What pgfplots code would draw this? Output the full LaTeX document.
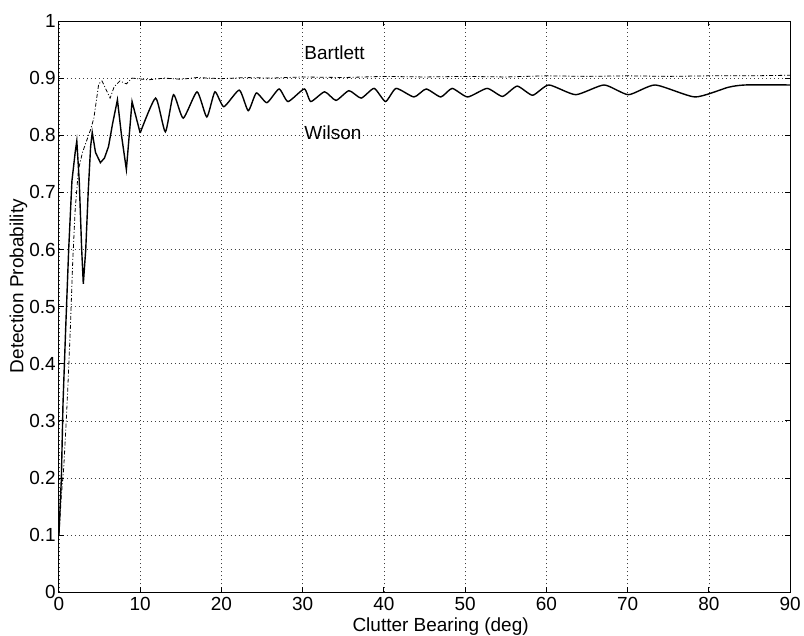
\documentclass[border=0pt]{standalone}
\usepackage{pgfplots}
\pgfplotsset{compat=1.18}
\usepackage{fontspec}
\setmainfont{Liberation Sans}
\begin{document}
\begin{tikzpicture}
\begin{axis}[
  name=ax,
  scale only axis, width=732pt, height=572pt,
  xmin=0, xmax=90, ymin=0, ymax=1,
  xtick={0,10,...,90},
  ytick={0,0.1,0.2,0.3,0.4,0.5,0.6,0.7,0.8,0.9,1},
  yticklabels={0,0.1,0.2,0.3,0.4,0.5,0.6,0.7,0.8,0.9,1},
  tick align=inside,
  major tick length=5pt,
  grid=major,
  major grid style={black!75, line width=0.7pt, dash pattern=on 1pt off 3pt},
  axis line style={black, line width=0.9pt},
  tick style={black, line width=0.9pt},
  font=\fontsize{19}{21}\selectfont,
  /pgf/number format/assume math mode=true,
  yticklabel style={inner xsep=3pt},
  xticklabel style={inner ysep=5pt},
  xlabel={Clutter Bearing (deg)},
  ylabel={Detection Probability},
  xlabel style={at={(axis description cs:0.522,-0.0594)}, anchor=center, inner sep=0pt},
  ylabel style={at={(axis description cs:-0.0555,0.536)}, anchor=center, inner sep=0pt},
]
% Wilson (solid)
\addplot[black, line width=1.4pt] coordinates {
(0,0.10) (0.3,0.2) (0.5,0.33) (0.8,0.45) (1.2,0.6) (1.6,0.72) (2.0,0.77) (2.2,0.79)
(2.5,0.72) (2.8,0.6) (3.0,0.54) (3.3,0.6) (3.6,0.7) (3.9,0.78) (4.1,0.805) (4.5,0.77)
(5.1,0.752) (5.6,0.76) (6.1,0.78) (6.6,0.82) (7.2,0.862) (7.7,0.8) (8.3,0.74) (9.0,0.859)
(10.0,0.804)
};
\addplot[black, line width=1.4pt, smooth, tension=0.35] coordinates {
(10.0,0.804) (11.9,0.865) (13.1,0.806) (14.1,0.871) (15.3,0.83) (17.0,0.876) (18.2,0.832)
(19.2,0.876) (20.3,0.85) (22.2,0.879) (23.3,0.843) (24.3,0.874) (25.6,0.857) (27.1,0.881)
(28.2,0.859) (30.2,0.881) (31.0,0.859) (32.7,0.876) (34.1,0.861) (35.7,0.878) (37.2,0.865)
(38.8,0.882) (40.2,0.859) (41.5,0.882) (43.7,0.867) (45.2,0.881) (47.0,0.867) (48.4,0.882) (50.3,0.867)
(52.7,0.882) (54.6,0.868) (56.4,0.886) (58.3,0.870) (60.3,0.888) (63.6,0.871) (67.1,0.888)
(70.1,0.871) (73.4,0.888) (78.3,0.867) (82.4,0.884) (84.5,0.888) (90,0.888)
};
% Bartlett (dash-dot)
\addplot[black, line width=0.8pt, dash pattern=on 4pt off 2pt on 1pt off 2pt] coordinates {
(0,0.1) (0.3,0.17) (0.6,0.22) (0.9,0.3) (1.1,0.36) (1.4,0.46) (1.7,0.58) (2.0,0.67)
(2.4,0.74) (2.9,0.77) (3.4,0.79) (3.9,0.81) (4.3,0.83) (4.6,0.86) (4.9,0.89) (5.3,0.895)
(5.8,0.88) (6.3,0.865) (6.8,0.885) (7.5,0.895) (8.3,0.89) (9,0.9) (11,0.897) (13,0.9)
(15,0.898) (17,0.901) (20,0.899) (23,0.901) (26,0.9) (30,0.902) (35,0.901) (40,0.903)
(45,0.902) (50,0.903) (55,0.902) (60,0.904) (65,0.903) (70,0.904) (75,0.903) (80,0.904)
(85,0.904) (90,0.905)
};
\node[anchor=west, inner sep=0pt] at (axis cs:30.2,0.945) {Bartlett};
\node[anchor=west, inner sep=0pt] at (axis cs:30.2,0.804) {Wilson};
\end{axis}
\path (ax.south west) ++(-59pt,-42pt);
\path (ax.north east) ++(13pt,21pt);
\end{tikzpicture}
\end{document}
